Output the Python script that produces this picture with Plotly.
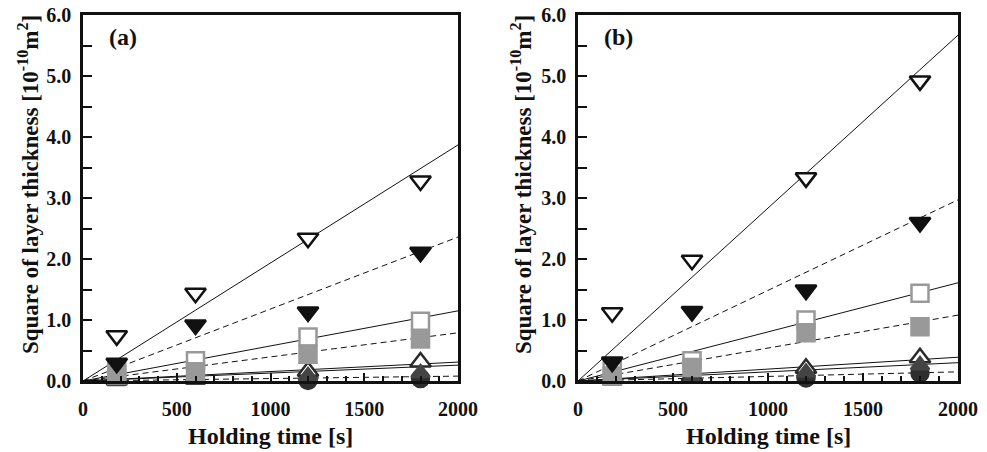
import plotly.graph_objects as go

# ---------------- data ----------------
times = [180, 600, 1200, 1800]

# panel (a)
a_open_down = [0.74, 1.44, 2.34, 3.28]
a_fill_down = [0.29, 0.92, 1.13, 2.11]
a_open_sq = [0.18, 0.33, 0.72, 0.98]
a_fill_sq = [0.10, 0.15, 0.44, 0.69]
a_open_up = [0.02, 0.04, 0.16, 0.31]
a_fill_up = [0.00, 0.02, 0.08, 0.13]
a_circle = [-0.03, -0.02, 0.01, 0.04]

# panel (b)
b_open_down = [1.12, 1.98, 3.33, 4.92]
b_fill_down = [0.31, 1.14, 1.49, 2.60]
b_open_sq = [0.20, 0.33, 1.00, 1.44]
b_fill_sq = [0.08, 0.22, 0.79, 0.89]
b_open_up = [0.04, 0.08, 0.21, 0.38]
b_fill_up = [0.01, 0.04, 0.14, 0.26]
b_circle = [-0.03, -0.01, 0.05, 0.13]

# fitted lines through origin: value at t = 2000 s, and style
fit_t = [0, 2000]
a_fit_end = [3.87, 2.36, 1.15, 0.79, 0.31, 0.26, 0.08]
b_fit_end = [5.67, 2.97, 1.61, 1.08, 0.39, 0.30, 0.15]
fit_dash = ["solid", "dash", "solid", "dash", "solid", "solid", "dash"]

x_ticks = [0, 500, 1000, 1500, 2000]
y_ticks = [0, 1, 2, 3, 4, 5, 6]
y_tick_labels = ["0.0", "1.0", "2.0", "3.0", "4.0", "5.0", "6.0"]
x_title = "Holding time [s]"
y_title = "Square of layer thickness [10<sup>-10</sup>m<sup>2</sup>]"
panel_labels = ["(a)", "(b)"]

FONT = "Liberation Serif"
INK = "#111111"

fig = go.Figure()

def add_panel(xa, ya, series, fit_end):
    for end, dash in zip(fit_end, fit_dash):
        fig.add_trace(go.Scatter(
            x=fit_t, y=[0, end], mode="lines", xaxis=xa, yaxis=ya,
            line=dict(color=INK, width=1, dash="6px,4px" if dash == "dash" else "solid"),
            showlegend=False, hoverinfo="skip"))
    (open_down, fill_down, open_sq, fill_sq, open_up, fill_up, circ) = series
    styles = [
        (circ, "circle", "#2e2e2e", "#2e2e2e", 17),
        (open_up, "triangle-up", "white", "#2a2a2a", 18),
        (fill_up, "triangle-up", "#444444", "#444444", 16),
        (open_sq, "square", "white", "#999999", 17),
        (fill_sq, "square", "#999999", "#999999", 17),
        (open_down, "triangle-down", "white", INK, 18),
        (fill_down, "triangle-down", INK, INK, 18),
    ]
    for vals, sym, fill, edge, size in styles:
        fig.add_trace(go.Scatter(
            x=times, y=vals, mode="markers", xaxis=xa, yaxis=ya, cliponaxis=False,
            marker=dict(symbol=sym, size=size, color=fill,
                        line=dict(color=edge, width=2.5)),
            showlegend=False))

add_panel("x", "y", [a_open_down, a_fill_down, a_open_sq, a_fill_sq, a_open_up, a_fill_up, a_circle], a_fit_end)
add_panel("x2", "y2", [b_open_down, b_fill_down, b_open_sq, b_fill_sq, b_open_up, b_fill_up, b_circle], b_fit_end)

W, H = 987, 452
ydom = [(H - 381) / H, (H - 15) / H]
xdom_a = [83 / W, 458 / W]
xdom_b = [578 / W, 958 / W]

def xaxis(dom, anchor):
    return dict(
        domain=dom, anchor=anchor, range=[0, 2000], automargin=False,
        tickvals=x_ticks, ticktext=["<b>%d</b>" % v for v in x_ticks],
        ticks="inside", ticklen=8, tickwidth=2, tickcolor=INK,
        minor=dict(dtick=100, tick0=0, ticks="inside", ticklen=5, tickwidth=1.5, tickcolor=INK),
        showline=True, linewidth=2.5, linecolor=INK, mirror=True,
        showgrid=False, zeroline=False, ticklabelstandoff=8,
        tickfont=dict(family=FONT, size=20, color=INK),
    )

def yaxis(anchor):
    return dict(
        domain=ydom, anchor=anchor, range=[0, 6], automargin=False,
        tickvals=y_ticks, ticktext=["<b>%s</b>" % t for t in y_tick_labels],
        ticks="inside", ticklen=9, tickwidth=2, tickcolor=INK,
        minor=dict(dtick=0.5, tick0=0, ticks="inside", ticklen=9, tickwidth=2, tickcolor=INK),
        showline=True, linewidth=2.5, linecolor=INK, mirror=True,
        showgrid=False, zeroline=False, ticklabelstandoff=5,
        tickfont=dict(family=FONT, size=20, color=INK),
    )

ann = []
for xa, ya, lab, tx in [("x", "y", panel_labels[0], 28), ("x2", "y2", panel_labels[1], 521)]:
    ann.append(dict(text="<b>%s</b>" % lab, x=0.064, y=0.94,
                    xref="%s domain" % xa, yref="%s domain" % ya, showarrow=False,
                    xanchor="left", yanchor="middle",
                    font=dict(family=FONT, size=24, color=INK)))
    ann.append(dict(text="<b>%s</b>" % y_title, x=tx / W, y=1 - 185 / H,
                    xref="paper", yref="paper", showarrow=False, textangle=-90,
                    xanchor="center", yanchor="middle",
                    font=dict(family=FONT, size=23, color=INK)))
    ann.append(dict(text="<b>%s</b>" % x_title, x=0.5, y=0,
                    xref="%s domain" % xa, yref="paper", showarrow=False,
                    xanchor="center", yanchor="bottom", yshift=1,
                    font=dict(family=FONT, size=24, color=INK)))

fig.update_layout(
    width=W, height=H, margin=dict(l=0, r=0, t=0, b=0),
    paper_bgcolor="white", plot_bgcolor="white",
    xaxis=xaxis(xdom_a, "y"), yaxis=yaxis("x"),
    xaxis2=xaxis(xdom_b, "y2"), yaxis2=yaxis("x2"),
    annotations=ann,
)

fig.write_html("out.html", config={"displayModeBar": False},
               post_script="document.body.style.margin='0px';")
